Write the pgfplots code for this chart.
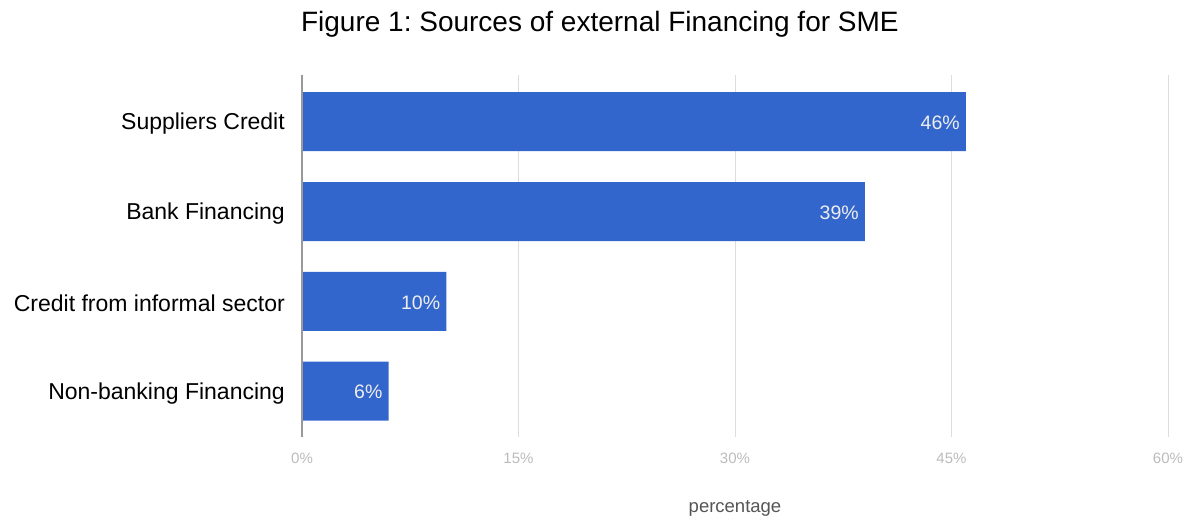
\documentclass[border=0pt]{standalone}
\usepackage{pgfplots}
\pgfplotsset{compat=1.18}
\usepackage{fontspec}
\setmainfont{Liberation Sans}
\frenchspacing
\definecolor{barblue}{HTML}{3366CC}
\definecolor{gridgray}{HTML}{DDDDDD}
\definecolor{axisgray}{HTML}{999999}
\definecolor{ticklab}{HTML}{BBBBBB}
\definecolor{xlab}{HTML}{555555}
\begin{document}
\begin{tikzpicture}[x=1pt,y=1pt]
\useasboundingbox (0,0) rectangle (1189,516);
\begin{axis}[
  at={(302pt,79pt)}, anchor=south west,
  scale only axis, width=866pt, height=362pt,
  /pgf/number format/assume math mode=true,
  xbar, bar width=59pt,
  xmin=0, xmax=60,
  ymin=-0.52, ymax=3.51, y dir=reverse,
  ytick={0,1,2,3},
  yticklabels={Suppliers Credit, Bank Financing, Credit from informal sector, Non-banking Financing},
  yticklabel style={anchor=east, inner sep=0pt, xshift=-17pt, yshift=-2pt, font=\fontsize{23}{27}\selectfont, text=black},
  xtick={0,15,30,45,60},
  xticklabels={0\%,15\%,30\%,45\%,60\%},
  xticklabel style={anchor=base, inner sep=0pt, yshift=-26pt, font=\fontsize{15}{18}\selectfont, text=ticklab},
  major tick length=0pt,
  axis line style={draw=none},
  xmajorgrids, grid style={gridgray, line width=1pt},
  title={Figure 1:\ Sources of external Financing for SME},
  title style={at={(0.344,1)}, anchor=base, yshift=37pt, inner sep=0pt, font=\fontsize{28}{32}\selectfont},
  xlabel={percentage},
  xlabel style={at={(0.5,0)}, anchor=base, yshift=-75pt, inner sep=0pt, font=\fontsize{18.5}{22}\selectfont, text=xlab},
  nodes near coords={\pgfmathprintnumber[assume math mode=true]{\pgfplotspointmeta}\%},
  nodes near coords style={anchor=east, xshift=-6pt, yshift=-1pt, inner sep=0pt, text=white!93!black, font=\fontsize{19.5}{23}\selectfont},
  clip=false,
]
\addplot[fill=barblue, draw=none] coordinates {(46,0) (39,1) (10,2) (6,3)};
\draw[axisgray, line width=1.2pt] (axis cs:0,-0.52) -- (axis cs:0,3.51);
\end{axis}
\end{tikzpicture}
\end{document}
